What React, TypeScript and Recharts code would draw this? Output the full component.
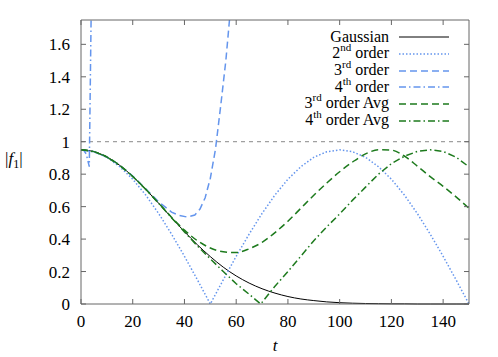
import { LineChart, Line, XAxis, YAxis, ReferenceLine } from 'recharts'

const T_GRID = [0, 5, 10, 15, 20, 25, 30, 35, 40, 45, 50, 55, 60, 65, 70, 75, 80, 85, 90, 95, 100, 105, 110, 115, 120, 125, 130, 135, 140, 145, 150]

const GAUSSIAN = [0.95, 0.939, 0.906, 0.854, 0.786, 0.707, 0.621, 0.532, 0.446, 0.365, 0.292, 0.227, 0.173, 0.129, 0.094, 0.067, 0.046, 0.031, 0.021, 0.013, 0.008, 0.005, 0.003, 0.002, 0.001, 0.001, 0, 0, 0, 0, 0]
const SECOND = [0.95, 0.938, 0.904, 0.846, 0.769, 0.672, 0.558, 0.431, 0.294, 0.149, 0, 0.149, 0.294, 0.431, 0.558, 0.672, 0.769, 0.846, 0.904, 0.938, 0.95, 0.938, 0.904, 0.846, 0.769, 0.672, 0.558, 0.431, 0.294, 0.149, 0]

// the 3rd and 4th order runs leave the top of the plot; last point is where they cross it
const THIRD_T = [0, 5, 10, 15, 20, 25, 30, 35, 38, 41, 44, 46, 48, 50, 52, 54, 56, 57.4]
const THIRD = [0.95, 0.939, 0.906, 0.855, 0.788, 0.71, 0.63, 0.566, 0.546, 0.536, 0.548, 0.585, 0.655, 0.775, 0.955, 1.22, 1.5, 1.75]

const FOURTH_T = [0, 1, 2, 3, 3.2, 3.9]
const FOURTH = [0.95, 0.948, 0.925, 0.86, 0.846, 1.75]

const AVG3 = [0.95, 0.939, 0.906, 0.854, 0.786, 0.707, 0.622, 0.535, 0.455, 0.39, 0.345, 0.322, 0.317, 0.34, 0.38, 0.44, 0.51, 0.59, 0.67, 0.745, 0.815, 0.875, 0.925, 0.95, 0.948, 0.912, 0.85, 0.785, 0.725, 0.66, 0.59]

const AVG4_T = [0, 5, 10, 15, 20, 25, 30, 35, 40, 45, 50, 55, 60, 65, 69.5, 75, 80, 85, 90, 95, 100, 105, 110, 115, 120, 125, 130, 135, 140, 145, 150]
const AVG4 = [0.95, 0.939, 0.906, 0.854, 0.786, 0.707, 0.621, 0.532, 0.444, 0.358, 0.278, 0.2, 0.125, 0.06, 0, 0.11, 0.2, 0.295, 0.39, 0.475, 0.555, 0.64, 0.72, 0.8, 0.865, 0.91, 0.94, 0.95, 0.94, 0.905, 0.845]

const X_TICKS = [0, 20, 40, 60, 80, 100, 120, 140]
const Y_TICKS = [0, 0.2, 0.4, 0.6, 0.8, 1, 1.2, 1.4, 1.6]
const NAMES = ['Gaussian', '2nd order', '3rd order', '4th order', '3rd order Avg', '4th order Avg']

const BLUE = '#6495ed'
const GREEN = '#1d7a1d'
const SERIF = 'Liberation Serif'
const AXIS = '#666'

const series = [
  { key: 'g', name: NAMES[0], ts: T_GRID, vs: GAUSSIAN, stroke: '#000', dash: undefined, width: 1, type: 'monotone' },
  { key: 'o2', name: NAMES[1], ts: T_GRID, vs: SECOND, stroke: BLUE, dash: '1.5 2', width: 1.5, type: 'linear' },
  { key: 'o3', name: NAMES[2], ts: THIRD_T, vs: THIRD, stroke: BLUE, dash: '7 4', width: 1.5, type: 'linear' },
  { key: 'o4', name: NAMES[3], ts: FOURTH_T, vs: FOURTH, stroke: BLUE, dash: '7 3 1.5 3', width: 1.5, type: 'linear' },
  { key: 'a3', name: NAMES[4], ts: T_GRID, vs: AVG3, stroke: GREEN, dash: '7 4', width: 1.5, type: 'monotone' },
  { key: 'a4', name: NAMES[5], ts: AVG4_T, vs: AVG4, stroke: GREEN, dash: '7 3 1.5 3', width: 1.5, type: 'linear' },
]

// one row per time value, each series filled in where it was sampled
const rows: Record<number, any> = {}
series.forEach(s => s.ts.forEach((t, i) => {
  rows[t] = rows[t] || { t }
  rows[t][s.key] = s.vs[i]
}))
const chartData = Object.values(rows).sort((a: any, b: any) => a.t - b.t)

// "3rd order" -> 3 with raised "rd"
function renderName(name: string) {
  const m = name.match(/^(\d)(st|nd|rd|th)(.*)$/)
  if (!m) return name
  return (
    <>
      {m[1]}
      <span style={{ fontSize: 11, position: 'relative', top: -7 }}>{m[2]}</span>
      {m[3]}
    </>
  )
}

function ChartLegend() {
  return (
    <div style={{ position: 'absolute', left: 239, top: 29, fontFamily: SERIF, fontSize: 16, color: '#000' }}>
      {series.map(s => (
        <div key={s.key} style={{ display: 'flex', alignItems: 'center', height: 16.7 }}>
          <div style={{ width: 150, textAlign: 'right', whiteSpace: 'nowrap', lineHeight: '16.7px' }}>
            {renderName(s.name)}
          </div>
          <svg width={52} height={6} style={{ marginLeft: 10 }}>
            <line x1={0} x2={50} y1={3} y2={3} stroke={s.stroke} strokeWidth={s.width} strokeDasharray={s.dash} />
          </svg>
        </div>
      ))}
    </div>
  )
}

// ticks point into the plot, gnuplot style; the label sits 11px outside the axis
const renderBottomTick = (props: any) => (
  <g>
    <line x1={props.x} x2={props.x} y1={props.y - 11} y2={props.y - 16} stroke={AXIS} />
    <text x={props.x} y={props.y} dy={12} textAnchor="middle" fontFamily={SERIF} fontSize={17} fill="#000">
      {props.payload.value}
    </text>
  </g>
)

const renderLeftTick = (props: any) => (
  <g>
    <line x1={props.x + 11} x2={props.x + 16} y1={props.y} y2={props.y} stroke={AXIS} />
    <text x={props.x} y={props.y} dy={6} textAnchor="end" fontFamily={SERIF} fontSize={17} fill="#000">
      {props.payload.value}
    </text>
  </g>
)

const renderTopTick = (props: any) => (
  <line x1={props.x} x2={props.x} y1={props.y} y2={props.y + 5} stroke={AXIS} />
)

const renderRightTick = (props: any) => (
  <line x1={props.x} x2={props.x - 5} y1={props.y} y2={props.y} stroke={AXIS} />
)

export default function App() {
  return (
    <div style={{ position: 'fixed', left: 0, top: 0, width: 498, height: 357, background: '#fff' }}>
      <LineChart width={498} height={357} data={chartData} margin={{ top: 0, right: 0, bottom: 0, left: 0 }}>
        <XAxis
          type="number"
          dataKey="t"
          domain={[0, 150]}
          ticks={X_TICKS}
          height={53}
          stroke={AXIS}
          tickLine={false}
          tickSize={0}
          tickMargin={11}
          tick={renderBottomTick}
        />
        <XAxis
          xAxisId="top"
          orientation="top"
          type="number"
          dataKey="t"
          domain={[0, 150]}
          ticks={X_TICKS}
          height={20}
          stroke={AXIS}
          tickLine={false}
          tickSize={0}
          tickMargin={0}
          tick={renderTopTick}
        />
        <YAxis
          type="number"
          domain={[0, 1.75]}
          ticks={Y_TICKS}
          width={81}
          stroke={AXIS}
          tickLine={false}
          tickSize={0}
          tickMargin={11}
          tick={renderLeftTick}
        />
        <YAxis
          yAxisId="right"
          orientation="right"
          type="number"
          domain={[0, 1.75]}
          ticks={Y_TICKS}
          width={29}
          stroke={AXIS}
          tickLine={false}
          tickSize={0}
          tickMargin={0}
          tick={renderRightTick}
        />
        <ReferenceLine y={1} stroke="#888" strokeDasharray="4 4" strokeWidth={1} />
        {/* invisible copy so the top and right frame axes get drawn */}
        <Line
          xAxisId="top"
          yAxisId="right"
          dataKey="g"
          stroke="none"
          connectNulls
          dot={false}
          activeDot={false}
          isAnimationActive={false}
        />
        {series.map(s => (
          <Line
            key={s.key}
            name={s.name}
            dataKey={s.key}
            type={s.type as any}
            stroke={s.stroke}
            strokeWidth={s.width}
            strokeDasharray={s.dash}
            connectNulls
            dot={false}
            activeDot={false}
            isAnimationActive={false}
          />
        ))}
      </LineChart>
      <ChartLegend />
      <svg width={498} height={357} style={{ position: 'absolute', left: 0, top: 0, pointerEvents: 'none' }}>
        <text x={275} y={351} textAnchor="middle" fontFamily={SERIF} fontSize={17} fontStyle="italic" fill="#000">t</text>
        <text x={5} y={164} fontFamily={SERIF} fontSize={17} fill="#000">
          |<tspan fontStyle="italic">f</tspan>
          <tspan fontSize={12} dy={4}>1</tspan>
          <tspan dy={-4}>|</tspan>
        </text>
      </svg>
    </div>
  )
}
